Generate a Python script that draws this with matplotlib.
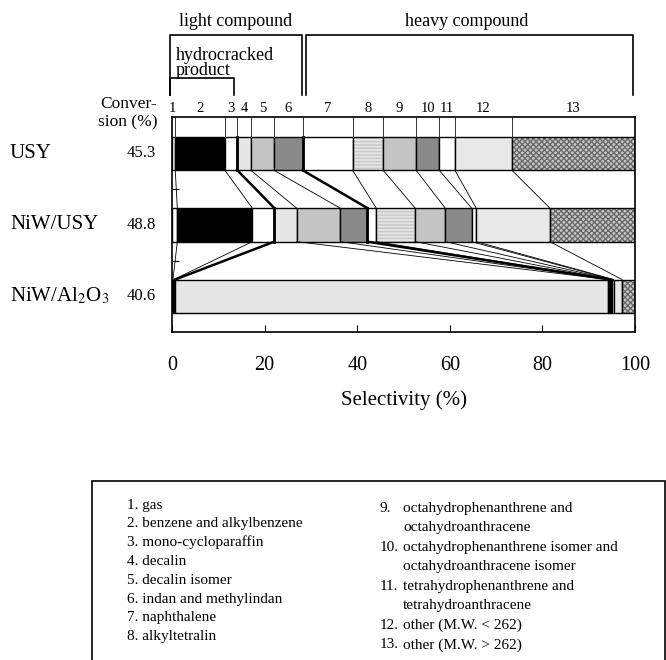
import numpy as np
import matplotlib
matplotlib.use('Agg')
import matplotlib.pyplot as plt
import matplotlib.transforms as mtransforms
from matplotlib.patches import Rectangle

plt.rcParams['font.family'] = ['Liberation Serif', 'DejaVu Serif']
plt.rcParams['mathtext.fontset'] = 'stix'

# data
catalysts = ['USY', 'NiW/USY', r'NiW/Al$_2$O$_3$']
conversion = ['45.3', '48.8', '40.6']
usy = [0.7, 10.7, 2.7, 2.9, 5.0, 6.2, 10.8, 6.6, 7.1, 5.0, 3.4, 12.3, 26.6]
niw_usy = [1.15, 16.2, 4.75, 4.8, 9.4, 5.9, 1.9, 8.4, 6.5, 5.7, 1.0, 15.9, 18.4]
niw_al2o3 = [0.2, 0.2, 0.3, 93.5, 0.1, 0.2, 0.2, 0.1, 0.2, 0.1, 0.3, 1.8, 2.8]
seg_labels = [str(i) for i in range(1, 14)]
legend_left = ['1. gas', '2. benzene and alkylbenzene', '3. mono-cycloparaffin',
               '4. decalin', '5. decalin isomer', '6. indan and methylindan',
               '7. naphthalene', '8. alkyltetralin']
legend_right = [('9.', 'octahydrophenanthrene and'), ('', 'octahydroanthracene'),
                ('10.', 'octahydrophenanthrene isomer and'), ('', 'octahydroanthracene isomer'),
                ('11.', 'tetrahydrophenanthrene and'), ('', 'tetrahydroanthracene'),
                ('12.', 'other (M.W. < 262)'), ('13.', 'other (M.W. > 262)')]

# segment styles
colors = ['white', 'black', 'white', '#e6e6e6', '#c4c4c4', '#8a8a8a', 'white',
          '#e4e4e4', '#c4c4c4', '#8a8a8a', 'white', '#e8e8e8', '#c8c8c8']
hatches = [None] * 7 + ['-----'] + [None] * 4 + ['xxxxxx']
thick = [2, 5]  # boundaries after segment 3 and 6

fig = plt.figure(figsize=(6.66, 6.60), dpi=100)
W, H = 666, 660
ax = fig.add_axes([172 / W, 1 - 332 / H, 463 / W, 215 / H])

rows = [usy, niw_usy, niw_al2o3]
cum = [np.cumsum(v) for v in rows]
h = 0.47
for r, vals in enumerate(rows):
    left = np.concatenate([[0], cum[r][:-1]])
    for i, v in enumerate(vals):
        if hatches[i]:
            ax.barh(r, v, left=left[i], height=h, color=colors[i], hatch=hatches[i],
                    edgecolor='#6a6a6a' if i == 12 else '#c8c8c8', linewidth=0)
        else:
            ax.barh(r, v, left=left[i], height=h, color=colors[i], linewidth=0)
        ax.barh(r, v, left=left[i], height=h, fill=False, edgecolor='black', linewidth=1.0)
    if r < 2:
        for i in thick:
            ax.plot([cum[r][i], cum[r][i]], [r - h / 2, r + h / 2], color='black', lw=2.0)

# vertical lines above the first bar
for i in range(12):
    ax.plot([cum[0][i], cum[0][i]], [-0.52, -h / 2], color='#333333', lw=0.7)

# connectors between bars
for r in range(2):
    for i in range(12):
        ax.plot([cum[r][i], cum[r + 1][i]], [r + h / 2, r + 1 - h / 2],
                color='black', lw=1.8 if i in thick else 0.6)

ax.set_xlim(0, 100)
ax.set_ylim(2.5, -0.51)
ax.set_xticks([0, 20, 40, 60, 80, 100])
ax.set_yticks([0.5, 1.5])
ax.set_yticklabels([])
ax.tick_params(axis='x', direction='in', length=5, pad=17, labelsize=14.5)
ax.tick_params(axis='y', direction='in', length=5)
for s in ax.spines.values():
    s.set_linewidth(1.2)
ax.set_xlabel('Selectivity (%)', fontsize=15, labelpad=11)

# segment numbers
centers = cum[0] - np.array(usy) / 2
centers[0] = 0
trans = mtransforms.blended_transform_factory(ax.transData, ax.transAxes)
for c, lab in zip(centers, seg_labels):
    ax.text(c, 1.040, lab, transform=trans, ha='center', va='center', fontsize=10.5)

# brackets
def fy(px):
    return (332 - px) / 215

def bracket(x0, x1, ytop, ybot):
    ax.plot([x0, x0, x1, x1], [fy(ybot), fy(ytop), fy(ytop), fy(ybot)],
            transform=trans, clip_on=False, color='black', lw=1.2)

bracket(-0.4, 28.0, 35, 95)
bracket(28.9, 99.6, 35, 95)
bracket(-0.4, 13.4, 78, 95)
ax.text(13.8, fy(21), 'light compound', transform=trans, ha='center', va='center', fontsize=13)
ax.text(63.6, fy(21), 'heavy compound', transform=trans, ha='center', va='center', fontsize=13)
ax.text(0.9, fy(63), 'hydrocracked\nproduct', transform=trans, ha='left', va='center',
        fontsize=13, linespacing=0.8)

# row labels
fig.text(157 / W, 1 - 104 / H, 'Conver-', ha='right', va='center', fontsize=12.5)
fig.text(157 / W, 1 - 122 / H, 'sion (%)', ha='right', va='center', fontsize=12.5)
rowtrans = mtransforms.blended_transform_factory(fig.transFigure, ax.transData)
for r, (name, conv) in enumerate(zip(catalysts, conversion)):
    fig.text(10 / W, r, name, ha='left', va='center', fontsize=15, transform=rowtrans)
    fig.text(156 / W, r, conv, ha='right', va='center', fontsize=12, transform=rowtrans)

# legend box
fig.patches.append(Rectangle((92 / W, -0.05), (665 - 92) / W, 0.05 + 1 - 481 / H,
                             transform=fig.transFigure, fill=False, edgecolor='black', lw=1.2))
for k, t in enumerate(legend_left):
    fig.text(127 / W, 1 - (505 + k * 18.8) / H, t, ha='left', va='center', fontsize=11)
for k, (n, t) in enumerate(legend_right):
    y = 1 - (508.3 + k * 19.5) / H
    if n:
        fig.text(380 / W, y, n, ha='left', va='center', fontsize=11)
    fig.text(403 / W, y, t, ha='left', va='center', fontsize=11)

fig.savefig('out.png', dpi=100)
